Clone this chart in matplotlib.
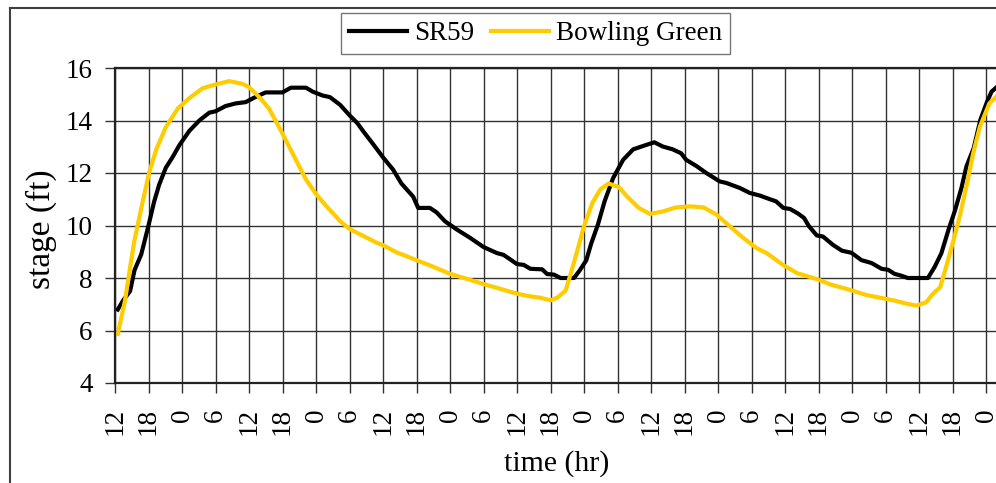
import matplotlib
matplotlib.use("Agg")
import matplotlib.pyplot as plt
from matplotlib.lines import Line2D

plt.rcParams['font.family'] = ['Liberation Serif', 'DejaVu Serif']

# ---- data (hours since 12:00 on day 1) ----
hours_sr59 = [0.5, 1.5, 2.7, 3.5, 4.7, 6, 7, 7.9, 9.1, 10.3, 11.5, 13.3, 15.1, 16.9, 18,
              19.8, 21.6, 23.4, 25.2, 27, 30, 31.5, 34.2, 35.4, 37.2, 38.5, 40.3, 42, 43.4,
              44.5, 46.3, 48.1, 49.8, 51.3, 53.4, 54.3, 56.4, 57.6, 59.1, 61.2, 63.6, 66,
              68.4, 69.6, 72, 73.2, 74.4, 76.5, 77.4, 78.6, 79.8, 82.2, 83.2, 84.4, 85.3,
              86.5, 87.7, 89.2, 91, 92.8, 94.6, 96.6, 98.1, 99.9, 101.4, 102.3, 104.1,
              105.9, 108.3, 109.5, 111.9, 113.7, 115.5, 117.3, 118.4, 119.7, 120.9, 122.3,
              123.4, 124.3, 125.7, 126.8, 128.6, 130.2, 131.9, 133.7, 135.5, 137.3, 138.5,
              139.6, 140.8, 142, 145.6, 146.8, 148, 149.3, 150.4, 151.6, 152.5, 153.8, 155,
              156.2, 157, 157.8]
stage_sr59 = [6.8, 7.16, 7.5, 8.3, 8.9, 10.0, 10.9, 11.55, 12.2, 12.6, 13.05, 13.6, 14.0, 14.3,
              14.35, 14.55, 14.65, 14.7, 14.9, 15.07, 15.07, 15.25, 15.25, 15.1, 14.95, 14.89,
              14.6, 14.2, 13.9, 13.58, 13.08, 12.57, 12.13, 11.6, 11.1, 10.67, 10.67, 10.5,
              10.16, 9.85, 9.53, 9.18, 8.95, 8.88, 8.53, 8.5, 8.35, 8.33, 8.15, 8.13, 8.0,
              8.0, 8.28, 8.67, 9.32, 10.04, 10.93, 11.8, 12.5, 12.9, 13.03, 13.17, 13.01,
              12.9, 12.75, 12.5, 12.27, 12.0, 11.68, 11.62, 11.43, 11.24, 11.14, 11.0, 10.92,
              10.67, 10.63, 10.46, 10.29, 9.97, 9.62, 9.58, 9.26, 9.04, 8.96, 8.68, 8.57,
              8.35, 8.31, 8.16, 8.09, 8.0, 8.0, 8.42, 8.94, 9.85, 10.54, 11.43, 12.25, 12.95,
              14.03, 14.72, 15.1, 15.25]

hours_bg = [0.5, 1.8, 2.7, 3.5, 5, 6.1, 7.4, 9.1, 11.3, 13.3, 15.7, 18, 20.4, 22.8, 24, 25.8,
            27.6, 30, 31.8, 34.2, 36, 37.8, 40.3, 42, 44.5, 46.8, 48, 50.4, 54, 56.4, 60,
            63.6, 66, 69.6, 72, 74.4, 76.1, 78, 79.2, 80.7, 81.6, 82.8, 84, 85.5, 86.9,
            88.4, 90.2, 91.7, 93.8, 95.8, 98.2, 100.5, 103, 105.4, 107.7, 110.1, 112.5,
            114.9, 116.7, 119.5, 122.2, 125.7, 128.2, 131.6, 134.6, 136.8, 139.6, 142,
            143.6, 145.3, 146.5, 147.8, 149, 150.2, 151.3, 152.5, 153.7, 154.9, 156.6, 157.8]
stage_bg = [5.87, 7.15, 8.4, 9.45, 10.95, 12.0, 12.9, 13.75, 14.47, 14.85, 15.23, 15.37, 15.5,
            15.4, 15.27, 14.9, 14.45, 13.5, 12.75, 11.75, 11.2, 10.75, 10.17, 9.87, 9.6, 9.35,
            9.25, 8.98, 8.68, 8.48, 8.16, 7.93, 7.77, 7.55, 7.4, 7.3, 7.25, 7.15, 7.25, 7.52,
            8.15, 9.04, 9.97, 10.86, 11.37, 11.6, 11.47, 11.11, 10.67, 10.44, 10.54, 10.69,
            10.73, 10.69, 10.42, 9.97, 9.53, 9.14, 8.95, 8.52, 8.18, 7.96, 7.75, 7.55, 7.35,
            7.26, 7.14, 7.01, 6.95, 7.08, 7.4, 7.65, 8.53, 9.45, 10.35, 11.5, 12.75, 13.76,
            14.65, 14.9]

tick_hours = list(range(0, 157, 6))
tick_labels = [str((12 + h) % 24) for h in tick_hours]
y_ticks = [4, 6, 8, 10, 12, 14, 16]

W, H = 996, 483
AX_L, AX_T, AX_B = 115, 68, 383
fig = plt.figure(figsize=(W / 100, H / 100), dpi=100)
ax = fig.add_axes([AX_L / W, (H - AX_B) / H, (W - AX_L) / W, (AX_B - AX_T) / H])

ax.plot(hours_sr59, stage_sr59, color='black', lw=3, label='SR59')
ax.plot(hours_bg, stage_bg, color='#FFCC00', lw=3, label='Bowling Green')

ax.set_xlim(0, (W - AX_L) / ((986 - AX_L) / 156))
ax.set_ylim(4, 16)
ax.set_xticks(tick_hours)
ax.set_xticklabels(tick_labels, rotation=90, fontsize=19.5)
ax.set_yticks(y_ticks)
ax.set_yticklabels([str(v) for v in y_ticks], fontsize=19.5)
ax.tick_params(axis='x', direction='out', length=7, width=1, pad=11, color='#333333')
ax.tick_params(axis='y', direction='out', length=7, width=1, pad=9, color='#333333')
ax.grid(True, color='#333333', lw=1)
ax.set_axisbelow(True)
for side in ['left', 'bottom', 'top']:
    ax.spines[side].set_color('#222222')
    ax.spines[side].set_linewidth(1.6)
ax.spines['right'].set_visible(False)

ax.set_xlabel('time (hr)', fontsize=21.5)
ax.xaxis.label.set_va('center')
ax.xaxis.set_label_coords((557 - AX_L) / (W - AX_L), (AX_B - 464) / (AX_B - AX_T))
ax.set_ylabel('stage (ft)', fontsize=24)
ax.yaxis.label.set_va('center')
ax.yaxis.set_label_coords((41.5 - AX_L) / (W - AX_L), (AX_B - 229) / (AX_B - AX_T))

leg = fig.legend(loc='center', bbox_to_anchor=(535.5 / W, 1 - 33.5 / H), ncol=2,
                 fontsize=19.5, frameon=True, fancybox=False, handlelength=2.15,
                 handletextpad=0.26, columnspacing=0.6, borderpad=0.3)
leg.get_frame().set_edgecolor('#555555')
leg.get_frame().set_linewidth(1.0)

# outer chart border
fig.add_artist(Line2D([10 / W, 10 / W], [0, 1 - 8 / H], transform=fig.transFigure,
                      color='#404040', lw=1.5))
fig.add_artist(Line2D([10 / W, 1], [1 - 8 / H, 1 - 8 / H], transform=fig.transFigure,
                      color='#404040', lw=1.5))

fig.savefig('out.png', dpi=100)
